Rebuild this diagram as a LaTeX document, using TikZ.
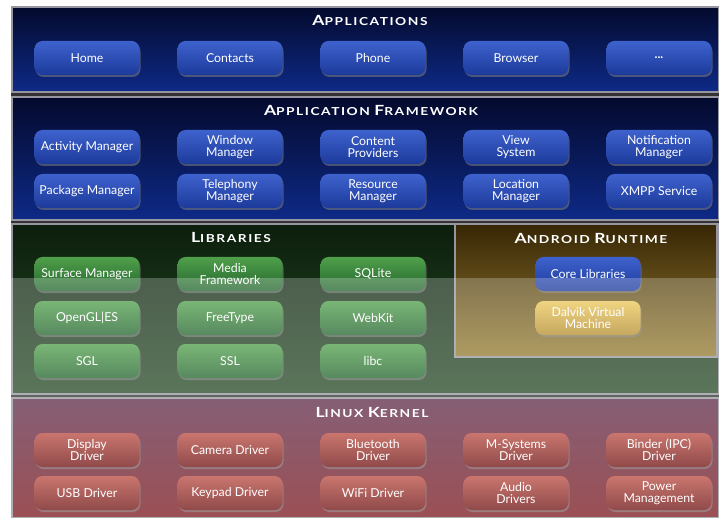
\documentclass[tikz,border=0pt]{standalone}
\usepackage{fontspec}
\setmainfont{Lato}
\newfontfamily\titlefont[LetterSpace=14,FakeStretch=1.25]{Lato Bold}
\usetikzlibrary{shadows}
\definecolor{appTop}{RGB}{4,10,45}
\definecolor{appBot}{RGB}{14,42,135}
\definecolor{libTop}{RGB}{12,30,12}
\definecolor{libBot}{RGB}{40,75,40}
\definecolor{rtTop}{RGB}{55,38,5}
\definecolor{rtBot}{RGB}{150,125,50}
\definecolor{krTop}{RGB}{95,45,75}
\definecolor{krBot}{RGB}{125,25,30}
\definecolor{bTop}{RGB}{62,98,205}
\definecolor{bBot}{RGB}{28,58,155}
\definecolor{gTop}{RGB}{80,160,75}
\definecolor{gBot}{RGB}{35,100,45}
\definecolor{yTop}{RGB}{235,200,90}
\definecolor{yBot}{RGB}{180,140,45}
\definecolor{rTop}{RGB}{185,75,65}
\definecolor{rBot}{RGB}{110,18,18}
\definecolor{frameGray}{RGB}{150,150,160}
\newcommand{\ttl}[2]{\titlefont{\fontsize{14}{14}\selectfont #1}{\fontsize{11}{11}\selectfont #2}}
\tikzset{
  panel/.style={draw=frameGray, line width=1.4pt},
  btn/.style={rounded corners=8pt, minimum width=105pt, minimum height=34pt,
    text=white, font=\fontsize{12.3}{11.5}\selectfont, align=center, inner sep=1pt,
    drop shadow={opacity=0.55, shadow xshift=1pt, shadow yshift=-2pt}},
  bluebtn/.style={btn, top color=bTop, bottom color=bBot},
  greenbtn/.style={btn, top color=gTop, bottom color=gBot},
  goldbtn/.style={btn, top color=yTop, bottom color=yBot},
  redbtn/.style={btn, top color=rTop, bottom color=rBot},
  title/.style={text=white, inner sep=0pt}
}
\begin{document}
\begin{tikzpicture}[x=1pt,y=-1pt]
\useasboundingbox (0,0) rectangle (719,518);
\fill[white] (0,0) rectangle (719,518);
\fill[black!80] (11,6) rectangle (719,518);
% panels
\shade[panel, top color=appTop, bottom color=appBot] (12,7) rectangle (719,92);
\shade[panel, top color=appTop, bottom color=appBot] (12,97) rectangle (719,220);
\shade[panel, top color=libTop, bottom color=libBot] (12,224) rectangle (719,394);
\shade[panel, top color=rtTop, bottom color=rtBot] (455,224) rectangle (717,357);
\shade[panel, top color=krTop, bottom color=krBot] (12,398) rectangle (719,518);
% titles
\node[title] (tApp) at (370,20) {\ttl{A}{PPLICATIONS}};
\node[title] (tFw) at (371,110) {\ttl{A}{PPLICATION} \ttl{F}{RAMEWORK}};
\node[title] (tLib) at (231,237) {\ttl{L}{IBRARIES}};
\node[title] (tRt) at (591,238) {\ttl{A}{NDROID} \ttl{R}{UNTIME}};
\node[title] (tKr) at (372,412) {\ttl{L}{INUX} \ttl{K}{ERNEL}};
% applications
\node[bluebtn] (home) at (87,58) {Home};
\node[bluebtn] (contacts) at (230,58) {Contacts};
\node[bluebtn] (phone) at (373,58) {Phone};
\node[bluebtn] (browser) at (516,58) {Browser};
\node[bluebtn] (more) at (659,58) {\textbf{...}};
% framework
\node[bluebtn] (actm) at (87,147) {Activity Manager};
\node[bluebtn] (winm) at (230,147) {Window\\Manager};
\node[bluebtn] (cprov) at (373,147) {Content\\Providers};
\node[bluebtn] (views) at (516,147) {View\\System};
\node[bluebtn] (notm) at (659,147) {Notification\\Manager};
\node[bluebtn] (pkgm) at (87,191) {Package Manager};
\node[bluebtn] (telm) at (230,191) {Telephony\\Manager};
\node[bluebtn] (resm) at (373,191) {Resource\\Manager};
\node[bluebtn] (locm) at (516,191) {Location\\Manager};
\node[bluebtn] (xmpp) at (659,191) {XMPP Service};
% libraries
\node[greenbtn] (surf) at (87,274) {Surface Manager};
\node[greenbtn] (media) at (230,274) {Media\\Framework};
\node[greenbtn] (sqlite) at (373,274) {SQLite};
\node[greenbtn] (opengl) at (87,318) {OpenGL|ES};
\node[greenbtn] (freetype) at (230,318) {FreeType};
\node[greenbtn] (webkit) at (373,318) {WebKit};
\node[greenbtn] (sgl) at (87,361) {SGL};
\node[greenbtn] (ssl) at (230,361) {SSL};
\node[greenbtn] (libc) at (373,361) {libc};
% runtime
\node[bluebtn] (core) at (588,274) {Core Libraries};
\node[goldbtn] (dalvik) at (588,318) {Dalvik Virtual\\Machine};
% kernel
\node[redbtn] (disp) at (87,450) {Display\\Driver};
\node[redbtn] (cam) at (230,450) {Camera Driver};
\node[redbtn] (bt) at (373,450) {Bluetooth\\Driver};
\node[redbtn] (msys) at (516,450) {M-Systems\\Driver};
\node[redbtn] (binder) at (659,450) {Binder (IPC)\\Driver};
\node[redbtn] (usb) at (87,493) {USB Driver};
\node[redbtn] (keypad) at (230,493) {Keypad Driver};
\node[redbtn] (wifi) at (373,493) {WiFi Driver};
\node[redbtn] (audio) at (516,493) {Audio\\Drivers};
\node[redbtn] (power) at (659,493) {Power\\Management};
% washed lower band
\fill[white, opacity=0.24] (0,278) rectangle (719,518);
\end{tikzpicture}
\end{document}
